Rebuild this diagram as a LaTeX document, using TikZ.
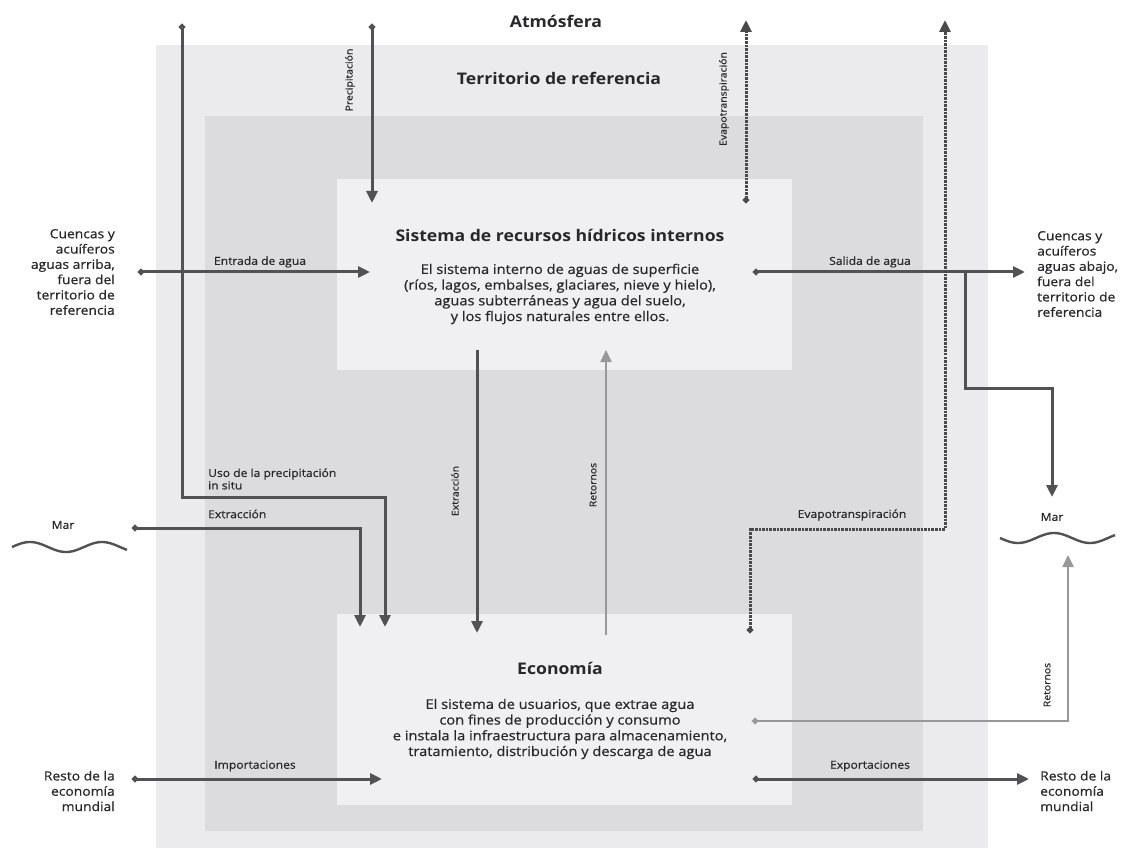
\documentclass[tikz,border=0pt]{standalone}
\usepackage{fontspec}
\setmainfont{Open Sans}[FakeStretch=1.1]
\newfontfamily\semifont{Open Sans}[FakeStretch=1.1, FakeBold=0.6]
\usetikzlibrary{arrows.meta}
\definecolor{terrgray}{RGB}{235,235,237}
\definecolor{innergray}{RGB}{220,220,222}
\definecolor{boxgray}{RGB}{240,240,242}
\definecolor{flowgray}{RGB}{82,82,84}
\definecolor{retgray}{RGB}{152,152,154}
\definecolor{txtgray}{RGB}{40,40,42}
\tikzset{
    >={Triangle[length=12pt,width=11pt]},
    fdot/.tip={Circle[length=6pt]},
    flow/.style={draw=flowgray, line width=3pt, ->},
    dflow/.style={flow, fdot->},
    evflow/.style={dflow, draw=flowgray!90!black, line width=3pt, dash pattern=on 2.6pt off 1pt},
    rflow/.style={flow, draw=retgray, line width=2.4pt},
    sysbox/.style={fill=boxgray, minimum width=455pt, minimum height=191pt, inner sep=0pt},
    head/.style={text=txtgray, inner sep=0pt, font=\bfseries\fontsize{16}{19}\selectfont},
    body/.style={text=txtgray, inner sep=0pt, align=center, font=\semifont\fontsize{13.3}{15.7}\selectfont},
    side/.style={text=txtgray, inner sep=0pt, font=\semifont\fontsize{12.6}{15.3}\selectfont},
    lab/.style={text=txtgray, inner sep=0pt, font=\semifont\fontsize{11}{12.5}\selectfont},
    vlab/.style={lab, rotate=90, font=\semifont\fontsize{9.5}{11}\selectfont},
}

\begin{document}
\begin{tikzpicture}[x=1pt, y=-1pt]
    \useasboundingbox[fill=white] (0,0) rectangle (1127,850);

    \node[fill=terrgray, minimum width=832pt, minimum height=803pt] (terr) at (571.5, 446.5){};
    \node[fill=innergray, minimum width=718pt, minimum height=715pt] (inner) at (564, 473.5){};
    \node[sysbox] (sis) at (564.5, 274.5){};
    \node[sysbox] (eco) at (564.5, 709.5){};

    \node[head] (atm) at (556, 21){Atmósfera};
    \node[head] (terrlab) at (559, 78){Territorio de referencia};
    \node[head] (sisT) at (560, 235){Sistema de recursos hídricos internos};
    \node[body] (sisB) at (560, 294){El sistema interno de aguas de superficie\\(ríos, lagos, embalses, glaciares, nieve y hielo),\\aguas subterráneas y agua del suelo,\\y los flujos naturales entre ellos.};
    \node[head] (ecoT) at (560, 668){Economía};
    \node[body] (ecoB) at (560, 729){El sistema de usuarios, que extrae agua\\con fines de producción y consumo\\e instala la infraestructura para almacenamiento,\\tratamiento, distribución y descarga de agua};

    \node[side, align=right, anchor=east] (upL) at (115, 272){Cuencas y\\acuíferos\\aguas arriba,\\fuera del\\territorio de\\referencia};
    \node[side, align=left, anchor=west] (dnR) at (1037, 274){Cuencas y\\acuíferos\\aguas abajo,\\fuera del\\territorio de\\referencia};
    \node[side, align=right, anchor=east] (restL) at (115, 791){Resto de la\\economía\\mundial};
    \node[side, align=left, anchor=west] (restR) at (1040, 791){Resto de la\\economía\\mundial};
    \node[lab] (marL) at (63, 525){Mar};
    \node[lab] (marR) at (1052, 517){Mar};
    \draw[flowgray, line width=2.4pt] plot[domain=12:127, samples=80] (\x, {547 - 5*sin((\x - 12)*5)});
    \draw[flowgray, line width=2.4pt] plot[domain=1000:1115, samples=80] (\x, {538 + 5*sin((\x - 1000)*5)});

    \node[lab] (entL) at (260, 262){Entrada de agua};
    \node[lab] (salL) at (870, 262){Salida de agua};
    \node[lab, align=left, anchor=west] (usoL) at (208, 479){Uso de la precipitación\\in situ};
    \node[lab, anchor=west] (extL) at (208, 514){Extracción};
    \node[lab] (evL) at (852, 515){Evapotranspiración};
    \node[lab] (impL) at (255, 766){Importaciones};
    \node[lab] (expL) at (870, 766){Exportaciones};
    \node[vlab] (precV) at (350, 80){Precipitación};
    \node[vlab] (evV) at (724, 99){Evapotranspiración};
    \node[vlab] (extV) at (455, 491){Extracción};
    \node[vlab] (retV) at (593, 485){Retornos};
    \node[vlab] (retV2) at (1047, 685){Retornos};

    \coordinate (rainTop) at (182, 24);
    \coordinate (rainTurn) at (182, 497);
    \coordinate (rainIn) at (385, 627);
    \coordinate (precTop) at (372, 24);
    \coordinate (precIn) at (372, 203);
    \coordinate (marOut) at (132, 528);
    \coordinate (marIn) at (360, 627);
    \coordinate (upOut) at (138, 272);
    \coordinate (sisIn) at (370, 272);
    \coordinate (sisOut) at (753, 272);
    \coordinate (dnIn) at (1025, 272);
    \coordinate (branch) at (965, 272);
    \coordinate (branchTurn) at (965, 388);
    \coordinate (marRin) at (1052, 497);
    \coordinate (extOut) at (477, 350);
    \coordinate (extIn) at (477, 633);
    \coordinate (retOut) at (606, 635);
    \coordinate (retIn) at (606, 350);
    \coordinate (evSis) at (746, 203);
    \coordinate (evTopA) at (746, 20);
    \coordinate (evEco) at (750, 633);
    \coordinate (evTurn) at (750, 529);
    \coordinate (evTopB) at (945, 20);
    \coordinate (retEco) at (752, 721);
    \coordinate (retMar) at (1068, 555);
    \coordinate (impOut) at (132, 779);
    \coordinate (impIn) at (382, 779);
    \coordinate (expOut) at (753, 779);
    \coordinate (expIn) at (1029, 779);

    \draw[dflow] (rainTop) -- (rainTurn) -| (rainIn);
    \draw[dflow] (precTop) -- (precIn);
    \draw[dflow] (marOut) -| (marIn);
    \draw[dflow] (upOut) -- (sisIn);
    \draw[dflow] (sisOut) -- (dnIn);
    \draw[flow] (branch) -- (branchTurn) -| (marRin);
    \draw[flow] (extOut) -- (extIn);
    \draw[rflow] (retOut) -- (retIn);
    \draw[evflow] (evSis) -- (evTopA);
    \draw[evflow] (evEco) -- (evTurn) -| (evTopB);
    \draw[rflow, fdot->] (retEco) -| (retMar);
    \draw[dflow] (impOut) -- (impIn);
    \draw[dflow] (expOut) -- (expIn);
\end{tikzpicture}
\end{document}
